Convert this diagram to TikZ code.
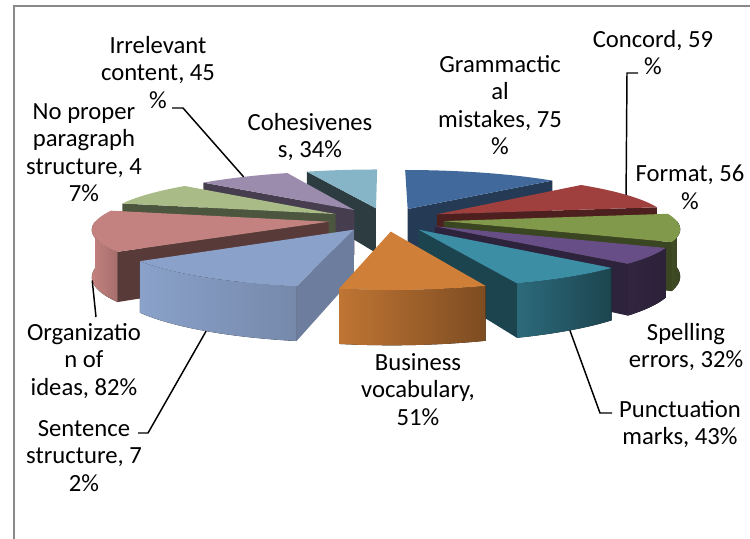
\documentclass[tikz,border=0pt]{standalone}
\usepackage{fontspec}
\setmainfont{Carlito}

\definecolor{framegray}{HTML}{898989}
% top faces
\definecolor{gramtop}{HTML}{41699B}
\definecolor{conctop}{HTML}{A0403E}
\definecolor{formtop}{HTML}{80994A}
\definecolor{spelltop}{HTML}{674E86}
\definecolor{puncttop}{HTML}{3B8EA4}
\definecolor{bustop}{HTML}{D07F38}
\definecolor{senttop}{HTML}{8AA1C9}
\definecolor{orgtop}{HTML}{C3827F}
\definecolor{noptop}{HTML}{A9BC88}
\definecolor{irrtop}{HTML}{9B8BAD}
\definecolor{cohtop}{HTML}{85B5C6}

% pie pieces: #1 from, #2 to, #3 mid angle
\newcommand{\pietop}[4]{%
  \fill[#4] ({sx(0,0,#3)},{sy(0,0,#3,0)}) -- plot[domain=#1:#2,samples=30,variable=\q] ({sx(1,\q,#3)},{sy(1,\q,#3,0)}) -- cycle;}
\newcommand{\piecut}[3]{%
  \fill[#3] ({sx(0,0,#2)},{sy(0,0,#2,0)}) -- ({sx(1,#1,#2)},{sy(1,#1,#2,0)}) -- ({sx(1,#1,#2)},{sy(1,#1,#2,1)}) -- ({sx(0,0,#2)},{sy(0,0,#2,1)}) -- cycle;}
\newcommand{\pierim}[5]{%
  \fill[left color=#4,right color=#5] plot[domain=#1:#2,samples=30,variable=\q] ({sx(1,\q,#3)},{sy(1,\q,#3,0)}) -- plot[domain=#2:#1,samples=30,variable=\q] ({sx(1,\q,#3)},{sy(1,\q,#3,1)}) -- cycle;}

\begin{document}
\begin{tikzpicture}[x=0.75pt,y=-0.75pt,
    declare function={
      kp(\w)=1/(1+0.135*\w);
      pu(\r,\t,\m)=\r*cos(\t)+0.25*cos(\m);
      pw(\r,\t,\m)=\r*sin(\t)+0.25*sin(\m);
      sx(\r,\t,\m)=386+232*pu(\r,\t,\m)*kp(pw(\r,\t,\m));
      sy(\r,\t,\m,\z)=219.5+(-46.9*pw(\r,\t,\m)+46*\z)*kp(pw(\r,\t,\m));
    },
    lbl/.style={align=center,inner sep=0pt,anchor=north,font=\fontsize{18.5}{20.6}\selectfont},
    lead/.style={line width=1.1pt}]
  \useasboundingbox (0,0) rectangle (750,539);
  \draw[line width=1.5pt,framegray] (14,545) -- (14,6) -- (756,6);

  % slices, back to front
  \piecut{-249.46}{-259.73}{black!45!cohtop!60!black}
  \pietop{-270}{-249.46}{-259.73}{cohtop}
  \piecut{44.70}{67.35}{gramtop!55!black}
  \pietop{44.70}{90}{67.35}{gramtop}
  \piecut{-222.28}{-235.87}{irrtop!45!black}
  \pietop{-249.46}{-222.28}{-235.87}{irrtop}
  \piecut{-193.89}{-208.1}{noptop!45!black}
  \pietop{-222.28}{-193.89}{-208.1}{noptop}
  \piecut{9.06}{26.88}{conctop!48!black}
  \pietop{9.06}{44.70}{26.88}{conctop}
  \pierim{-24.77}{0}{-7.85}{formtop!50!black}{formtop!45!black}
  \piecut{-24.77}{-7.85}{formtop!45!black}
  \pietop{-24.77}{9.06}{-7.85}{formtop}
  \pierim{-180}{-144.36}{-169.1}{orgtop}{orgtop!85!black}
  \piecut{-144.36}{-169.1}{orgtop!45!black}
  \pietop{-193.89}{-144.36}{-169.1}{orgtop}
  \pierim{-44.10}{-24.77}{-34.43}{spelltop!48!black}{spelltop!42!black}
  \piecut{-44.10}{-34.43}{spelltop!45!black}
  \pietop{-44.10}{-24.77}{-34.43}{spelltop}
  \pierim{-70.07}{-44.10}{-57.08}{puncttop!75!black}{puncttop!48!black}
  \piecut{-70.07}{-57.08}{puncttop!48!black}
  \pietop{-70.07}{-44.10}{-57.08}{puncttop}
  \pierim{-144.36}{-100.87}{-122.6}{senttop}{senttop!85!black}
  \piecut{-100.87}{-122.6}{senttop!78!black}
  \pietop{-144.36}{-100.87}{-122.6}{senttop}
  \pierim{-100.87}{-70.07}{-85.47}{bustop!92!black}{bustop!60!black}
  \pietop{-100.87}{-70.07}{-85.47}{bustop}

  % labels
  \node[lbl] (irr) at (158,36) {Irrelevant\\content, 45\\\%};
  \node[lbl] (nopar) at (84,103) {No proper\\paragraph\\structure, 4\\7\%};
  \node[lbl] (coh) at (310,113) {Cohesivenes\\s, 34\%};
  \node[lbl] (gram) at (500,55) {Grammactic\\al\\mistakes, 75\\\%};
  \node[lbl] (conc) at (653,30) {Concord, 59\\\%};
  \node[lbl] (form) at (690,165) {Format, 56\\\%};
  \node[lbl] (spell) at (686,323) {Spelling\\errors, 32\%};
  \node[lbl] (punct) at (680,400) {Punctuation\\marks, 43\%};
  \node[lbl] (bus) at (418,353) {Business\\vocabulary,\\51\%};
  \node[lbl] (org) at (84,323) {Organizatio\\n of\\ideas, 82\%};
  \node[lbl] (sent) at (84,420) {Sentence\\structure, 7\\2\%};

  % leader lines
  \coordinate (irr-in) at (172,108);
  \coordinate (irr-pt) at ({sx(1,-236,-235.87)},{sy(1,-236,-235.87,0)});
  \coordinate (conc-in) at (638,73);
  \coordinate (conc-pt) at ({sx(1,27,26.88)},{sy(1,27,26.88,0)});
  \coordinate (org-in) at (96,317);
  \coordinate (org-pt) at ({sx(1,-167,-169.1)},{sy(1,-167,-169.1,1)});
  \coordinate (sent-in) at (138,433);
  \coordinate (sent-pt) at ({sx(1,-122,-122.6)},{sy(1,-122,-122.6,1)});
  \coordinate (punct-in) at (612,413);
  \coordinate (punct-pt) at ({sx(1,-57,-57.08)},{sy(1,-57,-57.08,1)});
  \draw[lead] (irr-in) -- ++(11,0) -- (irr-pt);
  \draw[lead] (conc-in) -- ++(-11,0) -- (conc-pt);
  \draw[lead] (org-in) -- (org-pt);
  \draw[lead] (sent-in) -- ++(10,0) -- (sent-pt);
  \draw[lead] (punct-in) -- ++(-12,0) -- (punct-pt);
\end{tikzpicture}
\end{document}
